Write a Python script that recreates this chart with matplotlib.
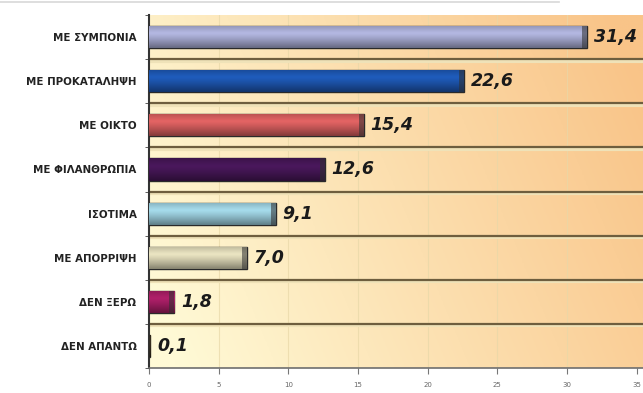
import matplotlib
matplotlib.use("Agg")
import matplotlib.pyplot as plt
import numpy as np
from matplotlib.colors import to_rgb
from matplotlib.lines import Line2D

categories = ["ΜΕ ΣΥΜΠΟΝΙΑ", "ΜΕ ΠΡΟΚΑΤΑΛΗΨΗ", "ΜΕ ΟΙΚΤΟ", "ΜΕ ΦΙΛΑΝΘΡΩΠΙΑ",
              "ΙΣΟΤΙΜΑ", "ΜΕ ΑΠΟΡΡΙΨΗ", "ΔΕΝ ΞΕΡΩ", "ΔΕΝ ΑΠΑΝΤΩ"]
values = [31.4, 22.6, 15.4, 12.6, 9.1, 7.0, 1.8, 0.1]
value_labels = ["31,4", "22,6", "15,4", "12,6", "9,1", "7,0", "1,8", "0,1"]
colors = ["#b4b8e2", "#1f5cbc", "#e46464", "#4a185c", "#a6dcec", "#ebe5c2", "#b0206a", "#3a3020"]
xticks = [0, 5, 10, 15, 20, 25, 30, 35]

fig = plt.figure(figsize=(6.43, 3.93), dpi=100)
ax = fig.add_axes([0.2317, 0.0636, 0.7683, 0.898])

# faint line at the very top (cropped title rule)
fig.add_artist(Line2D([0.0, 0.87], [0.996, 0.996], color="#d8d8d8", lw=1.2))

n = len(categories)
ypos = np.arange(n)[::-1]
ax.set_xlim(0, 35.45)
ax.set_ylim(-0.5, n - 0.5)

# background gradient
c1 = np.array(to_rgb("#fffad6"))
c2 = np.array(to_rgb("#f9c488"))
gx = np.linspace(0, 1, 256)
gy = np.linspace(0, 1, 64)
GX, GY = np.meshgrid(gx, gy)
t = np.clip(0.85 * GX + 0.25 * (1 - GY) - 0.05, 0, 1)[..., None]
img = c1 * (1 - t) + c2 * t
ax.imshow(img, extent=(0, 35.45, -0.5, n - 0.5), aspect="auto", origin="upper", zorder=0)

# faint vertical grid
for xv in xticks[1:-1]:
    ax.axvline(xv, color="#e8d8a8", lw=0.8, zorder=1, alpha=0.7)

# band separators
for b in np.arange(n - 1) + 0.5:
    ax.axhline(b - 0.03, color="#efe2b8", lw=3, zorder=1)
    ax.axhline(b, color="#6e5e3e", lw=1.6, zorder=2)

bars = ax.barh(ypos, values, height=0.5, color=colors, edgecolor="#2a2a2a",
               linewidth=1.0, zorder=3)

# cylinder shading
shade = np.linspace(0, 1, 64)
prof = 1 - 0.45 * np.abs(shade - 0.35) ** 1.2 * 1.6
for bar, col in zip(bars, colors):
    base = np.array(to_rgb(col))
    rows = []
    for p in prof:
        rows.append(base * max(p, 0.5))
    grad = np.array(rows)[:, None, :]
    x0, y0 = bar.get_x(), bar.get_y()
    w, h = bar.get_width(), bar.get_height()
    im = ax.imshow(grad, extent=(x0, x0 + w, y0, y0 + h), aspect="auto",
                   origin="upper", zorder=3.5)
    im.set_clip_path(bar)
    cap = min(0.35, w)
    ax.barh(bar.get_y() + h / 2, cap, left=x0 + w - cap, height=h,
            color="#303030", alpha=0.55, zorder=3.6, linewidth=0)

for y, v, lab in zip(ypos, values, value_labels):
    ax.text(v + 0.5, y, lab, va="center", ha="left", fontsize=12.5,
            fontweight="heavy", fontstyle="italic", color="#1a1a1a", zorder=5)

ax.set_yticks(ypos)
ax.set_yticklabels(categories, fontsize=7.4, fontweight="bold", color="#222222")
ax.set_xticks(xticks)
ax.set_xticklabels([str(x) for x in xticks], fontsize=5, color="#666666")
ax.set_yticks(np.arange(n + 1) - 0.5, minor=True)
ax.tick_params(axis="y", which="major", length=0, pad=9)
ax.tick_params(axis="y", which="minor", length=3, color="#444444")
ax.tick_params(axis="x", length=4, color="#777777", pad=6)

for s in ["top", "right"]:
    ax.spines[s].set_visible(False)
ax.spines["left"].set_color("#333333")
ax.spines["left"].set_linewidth(1.5)
ax.spines["bottom"].set_color("#6e6e6e")
ax.spines["bottom"].set_linewidth(1.2)

fig.savefig("out.png", dpi=100)
